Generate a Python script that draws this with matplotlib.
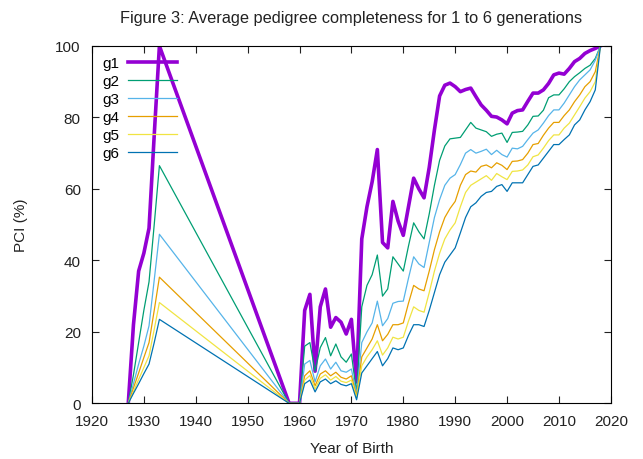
import matplotlib
matplotlib.use("Agg")
import matplotlib.pyplot as plt

plt.rcParams['font.family'] = ['Liberation Sans', 'DejaVu Sans']

# Years with data (gap between 1933 and 1958 is just joined by a line)
years = list(range(1927, 1934)) + [1958, 1959, 1960] + list(range(1961, 2019))

g1 = [0, 22, 37, 42, 49, 75, 100,
      0, 0, 0,
      26, 30.5, 9, 27, 32, 21.3, 24, 22.7, 19.4, 23.5,
      6, 46, 55, 62, 71, 45, 43.5, 56.5, 51, 47,
      55, 63, 60, 57.5, 66, 76.5, 86, 89, 89.6, 88.6,
      87.2, 87.8, 88.2, 85.8, 83.5, 82, 80.3, 80.1, 79.3, 78.2,
      81.2, 81.9, 82.1, 84.5, 86.8, 86.8, 87.7, 89.5, 91.9, 92.4,
      92.1, 93.7, 95.6, 96.5, 97.9, 98.7, 99.3, 100]

g2 = [0, 8, 17, 26, 34, 50, 66.5,
      0, 0, 0,
      16, 17, 9, 15.6, 18.4, 13.3, 16.6, 13, 11.5, 13.8,
      3, 27, 33, 36, 41.5, 30, 32, 41, 39, 37,
      44, 50.5, 48, 46, 53, 61, 68, 72, 74, 74.2,
      74.4, 76.5, 78.6, 77, 76.5, 76, 74.7, 75.3, 75.6, 73,
      75.8, 75.9, 76.1, 77.9, 80.3, 80.4, 82, 85.5, 86.3, 86.3,
      88, 90, 91.4, 92.5, 93.7, 94.6, 96.5, 100]

g3 = [0, 5.5, 11, 16, 21.7, 34.5, 47.3,
      0, 0, 0,
      11, 12, 6, 10.5, 12.4, 9.6, 11.5, 9.1, 8.7, 9.6,
      2.5, 17, 20, 22.5, 28.6, 21.7, 23.7, 28, 28.5, 28.6,
      35, 41, 39, 38, 45, 52, 57, 61, 63, 64,
      66.8, 70, 71, 70, 70.5, 71.1, 69.6, 70.8, 69.6, 68.9,
      71.4, 71.2, 71.9, 73.8, 75.6, 76.5, 78.4, 80.5, 82.1, 82.1,
      84, 86.3, 88.6, 90.5, 91.9, 93.3, 96, 100]

g4 = [0, 4.3, 8.5, 12.8, 17, 26, 35.3,
      0, 0, 0,
      7.7, 9.1, 4.9, 8.2, 9.1, 7.7, 8.7, 7.3, 6.8, 7.7,
      2, 13, 15.5, 18, 22, 17.5, 19.3, 22, 22, 22.5,
      28, 33, 32, 31.5, 37, 43, 48, 52, 54.5, 56.5,
      61, 64, 65, 64.7, 66.3, 66.7, 65.9, 67.3, 66.6, 65.4,
      67.7, 67.8, 68.2, 70, 72.4, 72.7, 75, 77, 78.6, 78.6,
      80.5, 82.1, 84.4, 86.3, 88.6, 90, 92.8, 100]

g5 = [0, 3.3, 6.7, 10, 13.3, 20.7, 28.2,
      0, 0, 0,
      6.5, 7.8, 4, 7, 8, 6.5, 7.5, 6.2, 5.8, 6.5,
      1.5, 10.5, 13, 15, 17.5, 13.5, 15.5, 18.5, 18, 18.5,
      23, 27, 26, 25.5, 31, 37, 42, 46, 48.5, 50.5,
      55, 59, 61, 61.9, 62.8, 63.7, 62.4, 64.3, 63.4, 62.6,
      64.9, 65, 65.3, 66.7, 69, 69.5, 71.4, 73.5, 75.1, 75.1,
      77, 78.4, 80.7, 83, 85.4, 87.2, 90, 100]

g6 = [0, 2.8, 5.5, 8.3, 11, 17, 23.5,
      0, 0, 0,
      5.5, 6.5, 3.2, 6, 6.8, 5.5, 6.3, 5.3, 4.9, 5.5,
      1, 8.5, 10.5, 12.5, 14.5, 10.5, 12.5, 15.5, 15, 15.5,
      19, 22, 22, 21.5, 26, 31, 36, 39.5, 41.5, 43.5,
      47.7, 52, 55, 56.1, 57.9, 59, 59.3, 60.7, 61.2, 59.3,
      61.7, 61.7, 61.7, 64, 66.3, 66.7, 68.6, 70.5, 72.4, 72.4,
      73.8, 75.1, 77.9, 79.3, 82.1, 84.4, 87.7, 100]

labels = ["g1", "g2", "g3", "g4", "g5", "g6"]
series = [g1, g2, g3, g4, g5, g6]
colors = ["#9400d3", "#009e73", "#56b4e9", "#e69f00", "#f0e442", "#0072b2"]
widths = [2.6, 0.9, 0.9, 0.9, 0.9, 0.9]

fig = plt.figure(figsize=(6.43, 4.60), dpi=100)
ax = fig.add_axes([0.143, 0.121, 0.807, 0.777])

for lab, vals, c, w in zip(labels, series, colors, widths):
    ax.plot(years, vals, color=c, linewidth=w, label=lab)

ax.set_xlim(1920, 2020)
ax.set_ylim(0, 100)
ax.set_xticks(range(1920, 2021, 10))
ax.set_yticks(range(0, 101, 20))
ax.tick_params(direction='in', top=True, right=True, labelsize=11, length=5,
               colors='#222222')
ax.tick_params(axis='x', pad=8)
ax.tick_params(axis='y', pad=8)

ax.set_xlabel("Year of Birth", fontsize=11, color='#222222', labelpad=9)
ax.set_ylabel("PCI (%)", fontsize=11, color='#222222', labelpad=20)
fig.text(0.546, 0.96, "Figure 3: Average pedigree completeness for 1 to 6 generations",
         ha='center', va='center', fontsize=11.8, color='#222222')

ax.legend(loc='upper left', bbox_to_anchor=(0.0, 1.0), frameon=False,
          markerfirst=False, handlelength=3.2, fontsize=11,
          labelspacing=0.27, borderaxespad=0.25, handletextpad=0.6)

fig.savefig("out.png", dpi=100)
